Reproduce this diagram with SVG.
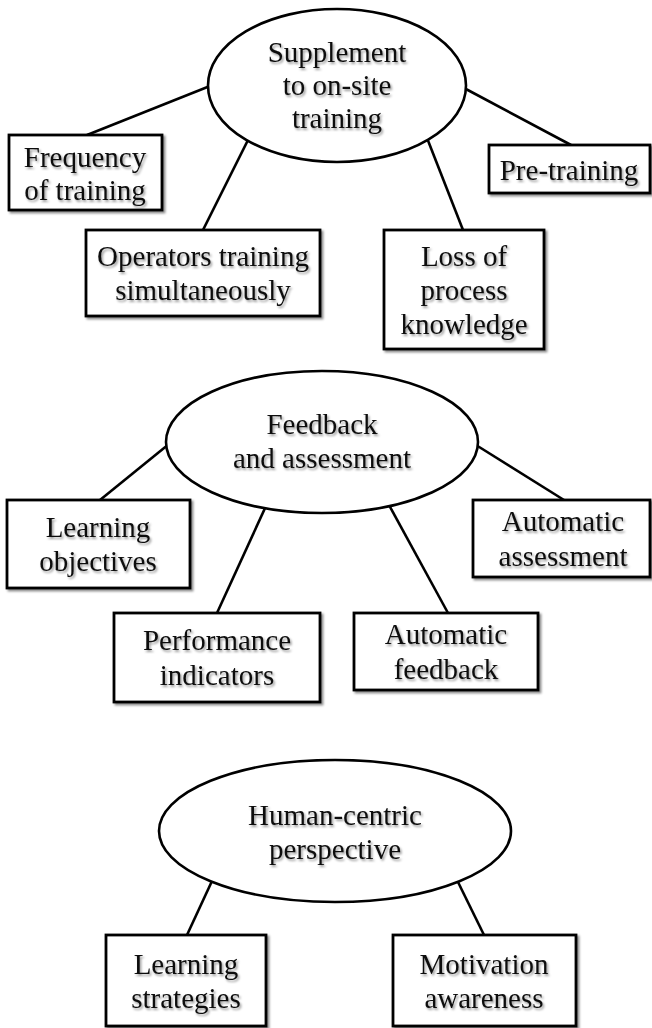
<svg xmlns="http://www.w3.org/2000/svg" width="652" height="1028" viewBox="0 0 652 1028">
<defs>
<filter id="sh" x="-10%" y="-10%" width="130%" height="130%">
<feDropShadow dx="2" dy="2" stdDeviation="1.2" flood-color="#000" flood-opacity="0.45"/>
</filter>
<filter id="tsh" x="-10%" y="-20%" width="130%" height="150%">
<feDropShadow dx="1.5" dy="2" stdDeviation="1.3" flood-color="#000" flood-opacity="0.4"/>
</filter>
</defs>
<style>
.n{fill:#fff;stroke:#000;stroke-width:2.8;filter:url(#sh)}
.e{fill:#fff;stroke:#000;stroke-width:2.6}
.c line{stroke:#000;stroke-width:2.6}
text{font-family:"Liberation Serif","Times New Roman",serif;font-size:29px;fill:#111;text-anchor:middle;filter:url(#tsh)}
</style>
<rect width="652" height="1028" fill="#fff"/>
<g id="connectors" class="c">
<line x1="210" y1="86" x2="87" y2="135"/>
<line x1="249" y1="138" x2="203" y2="230"/>
<line x1="427" y1="138" x2="463" y2="230"/>
<line x1="464" y1="88" x2="571" y2="145"/>
<line x1="169" y1="444" x2="100" y2="500"/>
<line x1="266" y1="506" x2="217" y2="613"/>
<line x1="389" y1="505" x2="448" y2="613"/>
<line x1="476" y1="445" x2="564" y2="500"/>
<line x1="212" y1="881" x2="187" y2="935"/>
<line x1="457" y1="880" x2="484" y2="935"/>
</g>
<g id="supplement">
<ellipse class="e" cx="337" cy="85.5" rx="129" ry="76.5"/>
<text x="337" y="62">Supplement</text>
<text x="337" y="95">to on-site</text>
<text x="337" y="128">training</text>
</g>
<g id="frequency">
<rect class="n" x="9" y="135" width="153" height="75"/>
<text x="85" y="167">Frequency</text>
<text x="85" y="200">of training</text>
</g>
<g id="operators">
<rect class="n" x="86" y="230" width="234" height="86"/>
<text x="203" y="266">Operators training</text>
<text x="203" y="300">simultaneously</text>
</g>
<g id="loss">
<rect class="n" x="384" y="230" width="160" height="119"/>
<text x="464" y="266">Loss of</text>
<text x="464" y="300">process</text>
<text x="464" y="334">knowledge</text>
</g>
<g id="pretraining">
<rect class="n" x="489" y="145" width="161" height="48"/>
<text x="569" y="180">Pre-training</text>
</g>
<g id="feedback">
<ellipse class="e" cx="322" cy="442" rx="156" ry="71"/>
<text x="322" y="434">Feedback</text>
<text x="322" y="468">and assessment</text>
</g>
<g id="objectives">
<rect class="n" x="7" y="500" width="183" height="88"/>
<text x="98" y="537">Learning</text>
<text x="98" y="571">objectives</text>
</g>
<g id="performance">
<rect class="n" x="114" y="613" width="206" height="89"/>
<text x="217" y="650">Performance</text>
<text x="217" y="685">indicators</text>
</g>
<g id="autofeedback">
<rect class="n" x="354" y="613" width="184" height="77"/>
<text x="446" y="644">Automatic</text>
<text x="446" y="679">feedback</text>
</g>
<g id="autoassessment">
<rect class="n" x="473" y="500" width="177" height="77"/>
<text x="563" y="531">Automatic</text>
<text x="563" y="566">assessment</text>
</g>
<g id="humancentric">
<ellipse class="e" cx="335" cy="831" rx="176" ry="71"/>
<text x="335" y="825">Human-centric</text>
<text x="335" y="859">perspective</text>
</g>
<g id="strategies">
<rect class="n" x="106" y="935" width="160" height="91"/>
<text x="186" y="974">Learning</text>
<text x="186" y="1008">strategies</text>
</g>
<g id="motivation">
<rect class="n" x="393" y="935" width="183" height="91"/>
<text x="484" y="974">Motivation</text>
<text x="484" y="1008">awareness</text>
</g>
</svg>
